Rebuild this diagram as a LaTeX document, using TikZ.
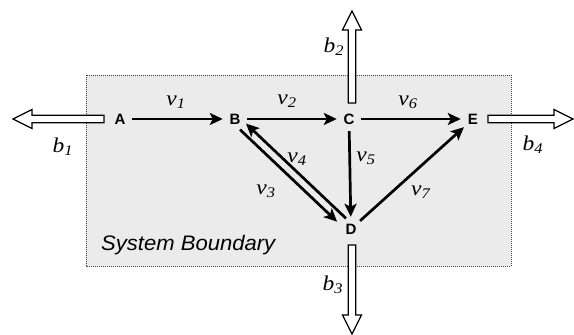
\documentclass[tikz,border=0pt]{standalone}
\usepackage{fontspec}
\setmainfont{Liberation Serif}
\setsansfont{Liberation Sans}
\usetikzlibrary{arrows.meta,calc}
\definecolor{boxgray}{HTML}{EBEBEB}
\newcommand\lab[2]{\scalebox{1.12}[1]{\textit{#1}\textsubscript{\textit{#2}}}}
\newcommand\fluxarrow[3]{%
  \begin{scope}[shift={(#1)},rotate=#2]
    \draw[fluxstyle] (0,-3.8) -- ({#3-19},-3.8) -- ({#3-19},-9.5) -- (#3,0)
      -- ({#3-19},9.5) -- ({#3-19},3.8) -- (0,3.8) -- cycle;
  \end{scope}}
\tikzset{
  statenode/.style={circle,minimum size=24pt,inner sep=0pt,
    font=\sffamily\bfseries\fontsize{15}{17}\selectfont},
  flow/.style={line width=2.7pt,-{Stealth[length=13pt,width=12pt,inset=3pt]}},
  fluxstyle/.style={draw=black,fill=white,line width=1.3pt,line join=miter},
  vlabel/.style={font=\fontsize{21}{23}\selectfont,inner sep=0pt},
  boundary/.style={fill=boxgray,draw=black!75,line width=1pt,dash pattern=on 1pt off 1pt},
}
\begin{document}
\begin{tikzpicture}[x=1pt,y=-1pt]
\useasboundingbox (0,0) rectangle (574,335);
\fill[white] (0,0) rectangle (574,335);
% system boundary
\draw[boundary] (86,75) rectangle (511,266);
\node[font=\sffamily\itshape\fontsize{21}{24}\selectfont,anchor=west,inner sep=0pt] (sb) at (101,245) {\scalebox{1.05}[1]{System Boundary}};
% nodes
\node[statenode] (A) at (120,119) {A};
\node[statenode] (B) at (235,119) {B};
\node[statenode] (C) at (349,119) {C};
\node[statenode] (D) at (351,229) {D};
\node[statenode] (E) at (473,119) {E};
% internal flows
\draw[flow] (A) -- (B);
\draw[flow] (B) -- (C);
\draw[flow] (C) -- (E);
\draw[flow] (C) -- (D);
\draw[flow] (D) -- (E);
\draw[flow,shorten <=11pt,shorten >=15pt] ([shift={(-3,3)}]B.center) -- ([shift={(-3,3)}]D.center);
\draw[flow,shorten <=11pt,shorten >=11pt] ([shift={(3,-3)}]D.center) -- ([shift={(3,-3)}]B.center);
% exchange fluxes
\coordinate (b1s) at (104,119);
\coordinate (b2s) at (352,103);
\coordinate (b3s) at (352,245);
\coordinate (b4s) at (488,119);
\fluxarrow{b1s}{180}{91}
\fluxarrow{b2s}{90}{92}
\fluxarrow{b3s}{-90}{89}
\fluxarrow{b4s}{0}{85}
% labels
\node[vlabel] (v1) at (176,102) {\lab{v}{1}};
\node[vlabel] (v2) at (287,101) {\lab{v}{2}};
\node[vlabel] (v6) at (408,102) {\lab{v}{6}};
\node[vlabel] (v4) at (297,159) {\lab{v}{4}};
\node[vlabel] (v5) at (366,158) {\lab{v}{5}};
\node[vlabel] (v3) at (266,191) {\lab{v}{3}};
\node[vlabel] (v7) at (421,192) {\lab{v}{7}};
\node[vlabel] (b1) at (63,147) {\lab{b}{1}};
\node[vlabel] (b2) at (334,47) {\lab{b}{2}};
\node[vlabel] (b3) at (333,285) {\lab{b}{3}};
\node[vlabel] (b4) at (533,145) {\lab{b}{4}};
\end{tikzpicture}
\end{document}
